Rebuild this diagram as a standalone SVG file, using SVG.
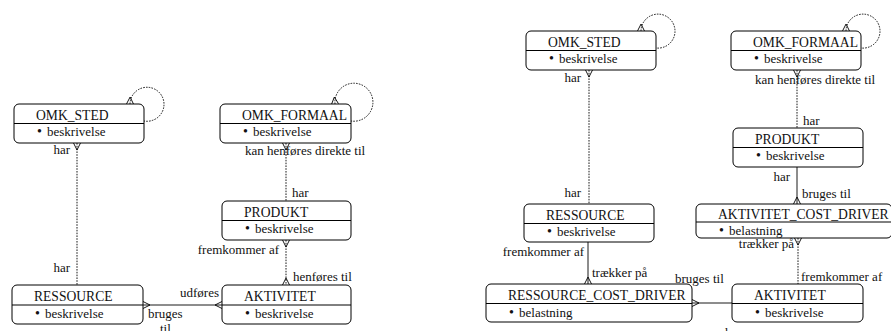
<svg xmlns="http://www.w3.org/2000/svg" width="891" height="331" viewBox="0 0 891 331" font-family="'Liberation Serif', 'Times New Roman', 'DejaVu Serif', serif">
<style>
text{font-family:'Liberation Serif','Times New Roman','DejaVu Serif',serif;fill:#111}
.t{font-size:13.6px}
.a{font-size:13px}
.l{font-size:13px}
.b{font-size:14px}
.box{fill:#fff;stroke:#000;stroke-width:1}
.div{stroke:#000;stroke-width:1}
.c{fill:none;stroke:#000;stroke-width:0.9}
.d{stroke-dasharray:1.6,1.2}
</style>
<defs>
<marker id="cf" markerUnits="userSpaceOnUse" markerWidth="12" markerHeight="12" viewBox="-9 -6 12 12" refX="0" refY="0" orient="auto-start-reverse">
<path d="M0,-3.5 L-7,0 L0,3.5" fill="none" stroke="#000" stroke-width="0.9"/>
</marker>
</defs>

<g id="connectors">
<path class="c d" d="M130,104 A17,17 0 1 1 144,121" marker-start="url(#cf)"/>
<path class="c d" d="M77,143 L77,285" marker-start="url(#cf)"/>
<path class="c d" d="M335,104 A19,19 0 1 1 351,121" marker-start="url(#cf)"/>
<path class="c d" d="M286,143 L286,201" marker-start="url(#cf)"/>
<path class="c d" d="M286,240 L286,285" marker-start="url(#cf)" marker-end="url(#cf)"/>
<path class="c" d="M143,305 L222,305" marker-start="url(#cf)" marker-end="url(#cf)"/>

<path class="c d" d="M641,31 A17,17 0 1 1 656,48" marker-start="url(#cf)"/>
<path class="c d" d="M589,70 L589,204" marker-start="url(#cf)"/>
<path class="c d" d="M846,31 A17,17 0 1 1 861,48" marker-start="url(#cf)"/>
<path class="c d" d="M797,70 L797,128" marker-start="url(#cf)"/>
<path class="c" d="M797,167 L797,204" marker-end="url(#cf)"/>
<path class="c d" d="M798,238 L798,284" marker-start="url(#cf)"/>
<path class="c" d="M588,242 L588,284" marker-end="url(#cf)"/>
<path class="c" d="M692,303 L732,303" marker-start="url(#cf)"/>
</g>

<g id="labels">
<text class="l" x="70" y="154" text-anchor="end">har</text>
<text class="l" x="70" y="272" text-anchor="end">har</text>
<text class="l" x="245" y="155">kan henføres direkte til</text>
<text class="l" x="292" y="197">har</text>
<text class="l" x="279" y="254" text-anchor="end">fremkommer af</text>
<text class="l" x="293" y="281">henføres til</text>
<text class="l" x="219" y="297" text-anchor="end">udføres</text>
<text class="l" x="148" y="318">bruges</text>
<text class="l" x="160" y="333">til</text>

<text class="l" x="581" y="82" text-anchor="end">har</text>
<text class="l" x="755" y="84">kan henføres direkte til</text>
<text class="l" x="803" y="125">har</text>
<text class="l" x="790" y="181" text-anchor="end">har</text>
<text class="l" x="802" y="198">bruges til</text>
<text class="l" x="794" y="248" text-anchor="end">trækker på</text>
<text class="l" x="801" y="281">fremkommer af</text>
<text class="l" x="675" y="283">bruges til</text>
<text class="l" x="725" y="337">har</text>
<text class="l" x="581" y="197" text-anchor="end">har</text>
<text class="l" x="584" y="256" text-anchor="end">fremkommer af</text>
<text class="l" x="592" y="277">trækker på</text>
</g>

<g id="L_OMK_STED">
<rect class="box" x="14" y="104" width="130" height="39" rx="5"/>
<line class="div" x1="14" y1="123.5" x2="144" y2="123.5"/>
<text class="t" x="36" y="120">OMK_STED</text>
<text class="a" y="136"><tspan class="b" x="37">•</tspan><tspan x="47">beskrivelse</tspan></text>
</g>
<g id="L_OMK_FORMAAL">
<rect class="box" x="220" y="104" width="131" height="39" rx="5"/>
<line class="div" x1="220" y1="123.5" x2="351" y2="123.5"/>
<text class="t" x="242" y="120">OMK_FORMAAL</text>
<text class="a" y="136"><tspan class="b" x="243">•</tspan><tspan x="253">beskrivelse</tspan></text>
</g>
<g id="L_PRODUKT">
<rect class="box" x="222" y="201" width="129" height="39" rx="5"/>
<line class="div" x1="222" y1="220.5" x2="351" y2="220.5"/>
<text class="t" x="244" y="217">PRODUKT</text>
<text class="a" y="233"><tspan class="b" x="245">•</tspan><tspan x="255">beskrivelse</tspan></text>
</g>
<g id="L_RESSOURCE">
<rect class="box" x="12" y="285" width="131" height="39" rx="5"/>
<line class="div" x1="12" y1="305" x2="143" y2="305"/>
<text class="t" x="34" y="301">RESSOURCE</text>
<text class="a" y="318"><tspan class="b" x="35">•</tspan><tspan x="45">beskrivelse</tspan></text>
</g>
<g id="L_AKTIVITET">
<rect class="box" x="222" y="285" width="129" height="39" rx="5"/>
<line class="div" x1="222" y1="305" x2="351" y2="305"/>
<text class="t" x="244" y="301">AKTIVITET</text>
<text class="a" y="318"><tspan class="b" x="245">•</tspan><tspan x="255">beskrivelse</tspan></text>
</g>

<g id="R_OMK_STED">
<rect class="box" x="526" y="31" width="130" height="39" rx="5"/>
<line class="div" x1="526" y1="50.5" x2="656" y2="50.5"/>
<text class="t" x="548" y="47">OMK_STED</text>
<text class="a" y="63"><tspan class="b" x="549">•</tspan><tspan x="559">beskrivelse</tspan></text>
</g>
<g id="R_OMK_FORMAAL">
<rect class="box" x="731" y="31" width="130" height="39" rx="5"/>
<line class="div" x1="731" y1="50.5" x2="861" y2="50.5"/>
<text class="t" x="753" y="47">OMK_FORMAAL</text>
<text class="a" y="63"><tspan class="b" x="754">•</tspan><tspan x="764">beskrivelse</tspan></text>
</g>
<g id="R_PRODUKT">
<rect class="box" x="733" y="128" width="130" height="39" rx="5"/>
<line class="div" x1="733" y1="147.5" x2="863" y2="147.5"/>
<text class="t" x="755" y="144">PRODUKT</text>
<text class="a" y="160"><tspan class="b" x="756">•</tspan><tspan x="766">beskrivelse</tspan></text>
</g>
<g id="R_RESSOURCE">
<rect class="box" x="524" y="204" width="130" height="38" rx="5"/>
<line class="div" x1="524" y1="223.5" x2="654" y2="223.5"/>
<text class="t" x="546" y="220">RESSOURCE</text>
<text class="a" y="236"><tspan class="b" x="547">•</tspan><tspan x="557">beskrivelse</tspan></text>
</g>
<g id="R_AKTIVITET_COST_DRIVER">
<rect class="box" x="696" y="204" width="196" height="34" rx="5"/>
<line class="div" x1="696" y1="222" x2="892" y2="222"/>
<text class="t" x="718" y="219">AKTIVITET_COST_DRIVER</text>
<text class="a" y="234.5"><tspan class="b" x="719">•</tspan><tspan x="729">belastning</tspan></text>
</g>
<g id="R_RESSOURCE_COST_DRIVER">
<rect class="box" x="486" y="284" width="206" height="38" rx="5"/>
<line class="div" x1="486" y1="303.5" x2="692" y2="303.5"/>
<text class="t" x="508" y="300">RESSOURCE_COST_DRIVER</text>
<text class="a" y="317"><tspan class="b" x="509">•</tspan><tspan x="519">belastning</tspan></text>
</g>
<g id="R_AKTIVITET">
<rect class="box" x="732" y="284" width="131" height="38" rx="5"/>
<line class="div" x1="732" y1="303.5" x2="863" y2="303.5"/>
<text class="t" x="754" y="300">AKTIVITET</text>
<text class="a" y="317"><tspan class="b" x="755">•</tspan><tspan x="765">beskrivelse</tspan></text>
</g>
</svg>
